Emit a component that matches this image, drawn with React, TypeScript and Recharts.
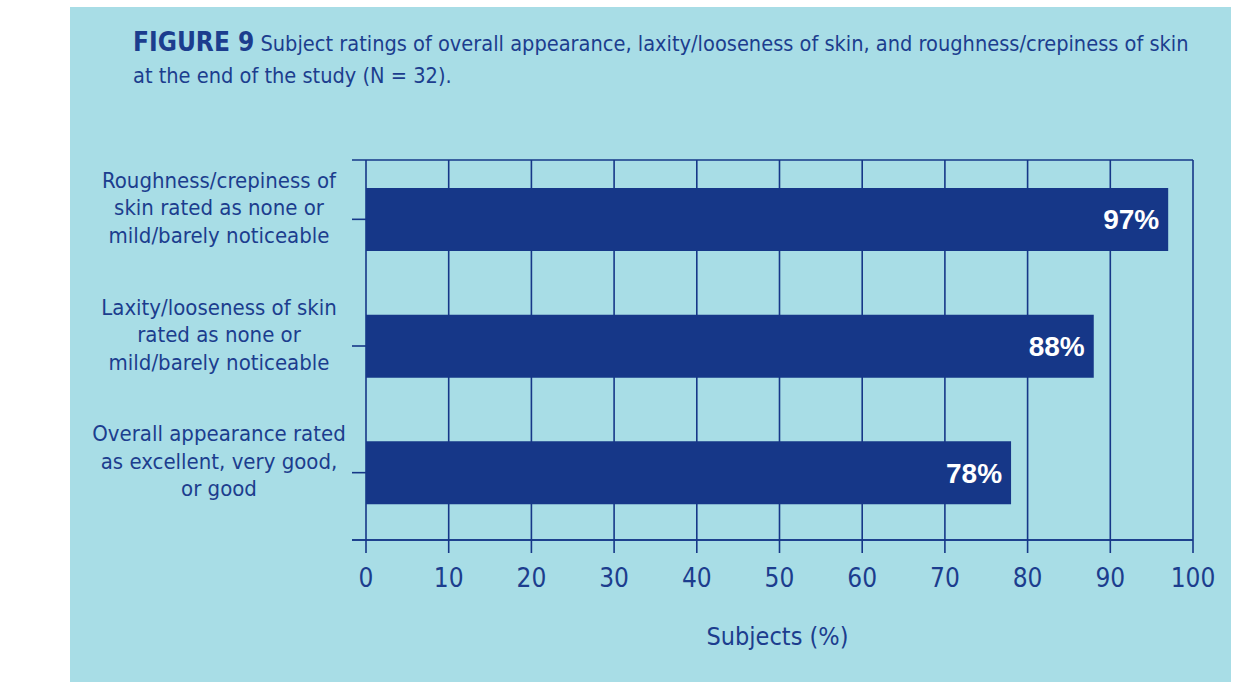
import React from "react";
import { BarChart, Bar, XAxis, YAxis, CartesianGrid, LabelList } from "recharts";

const categories = ["Roughness", "Laxity", "Overall"];
const categoryLines = [
  ["Roughness/crepiness of", "skin rated as none or", "mild/barely noticeable"],
  ["Laxity/looseness of skin", "rated as none or", "mild/barely noticeable"],
  ["Overall appearance rated", "as excellent, very good,", "or good"],
];
const percentValues = [97, 88, 78];
const xTicks = [0, 10, 20, 30, 40, 50, 60, 70, 80, 90, 100];

const NAVY = "#163788";
const TEXT = "#1c3d8e";
const PANEL = "#a8dde6";
const NARROW = "'Liberation Sans Narrow', 'DejaVu Sans Condensed', 'Arial Narrow', sans-serif";
const BOLD = "'Liberation Sans', Arial, sans-serif";

const data = categories.map((name, i) => ({ name, value: percentValues[i] }));

function CategoryTick(props: any) {
  const { x, y, payload } = props;
  const idx = categories.indexOf(payload.value);
  const lines = categoryLines[idx] || [];
  return (
    <g>
      <line x1={x} x2={x + 14} y1={y} y2={y} stroke={NAVY} strokeWidth={1.6} />
      {lines.map((l, i) => (
        <text key={i} x={x - 133} y={y - 31.5 + i * 27.5} textAnchor="middle" fill={TEXT} fontFamily={NARROW} fontSize={22}>
          {l}
        </text>
      ))}
    </g>
  );
}

export default function App() {
  return (
    <div style={{ position: "absolute", left: 0, top: 0, width: 1238, height: 682, background: "#fff", overflow: "hidden" }}>
      <div style={{ position: "absolute", left: 70, top: 7, width: 1161, height: 675, background: PANEL }} />
      <div
        style={{
          position: "absolute",
          left: 133,
          top: 26,
          width: 1100,
          fontFamily: NARROW,
          fontSize: 21.6,
          lineHeight: "32px",
          color: TEXT,
          whiteSpace: "nowrap",
        }}
      >
        <span style={{ fontWeight: 700, fontSize: 26 }}>FIGURE 9</span> Subject ratings of overall appearance, laxity/looseness of skin, and roughness/crepiness of skin
        <br />
        at the end of the study (N = 32).
      </div>
      <div style={{ position: "absolute", left: 0, top: 0 }}>
        <BarChart
          width={1238}
          height={682}
          data={data}
          layout="vertical"
          margin={{ top: 160, right: 45, bottom: 37, left: 72 }}
        >
          <CartesianGrid
            stroke={NAVY}
            strokeWidth={1.6}
            vertical={true}
            horizontal={true}
            syncWithTicks={true}
            horizontalCoordinatesGenerator={({ offset }: any) => [offset.top, offset.top + offset.height]}
          />
          <XAxis
            type="number"
            domain={[0, 100]}
            ticks={xTicks}
            padding={{ left: 14, right: 0 }}
            height={105}
            tickSize={13}
            tickMargin={16}
            axisLine={{ stroke: NAVY, strokeWidth: 1.6 }}
            tickLine={{ stroke: NAVY, strokeWidth: 1.6 }}
            tick={{ fill: TEXT, fontFamily: NARROW, fontSize: 26 }}
            label={{ value: "Subjects (%)", position: "insideBottom", offset: 0, dx: 5, fill: TEXT, fontFamily: NARROW, fontSize: 25 }}
          />
          <YAxis
            type="category"
            dataKey="name"
            width={280}
            axisLine={false}
            tickLine={false}
            tickSize={0}
            tickMargin={0}
            padding={{ top: -4, bottom: 4 }}
            tick={<CategoryTick />}
          />
          <Bar dataKey="value" fill={NAVY} barSize={63} isAnimationActive={false}>
            <LabelList
              dataKey="value"
              position="insideRight"
              offset={9}
              formatter={(v: any) => `${v}%`}
              fill="#fff"
              fontFamily={BOLD}
              fontWeight={700}
              fontSize={28}
            />
          </Bar>
        </BarChart>
      </div>
    </div>
  );
}
